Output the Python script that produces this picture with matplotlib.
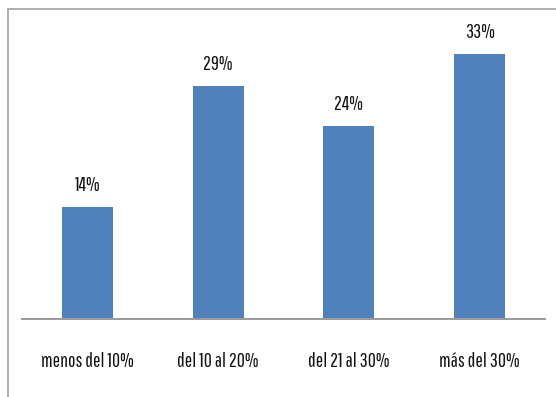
import matplotlib
matplotlib.use("Agg")
import matplotlib.pyplot as plt
from matplotlib.patches import Rectangle
from matplotlib.textpath import TextPath
from matplotlib.font_manager import FontProperties, fontManager

categories = ["menos del 10%", "del 10 al 20%", "del 21 al 30%", "más del 30%"]
values = [14, 29, 24, 33]
labels = ["14%", "29%", "24%", "33%"]

names = {f.name for f in fontManager.ttflist}
fam = "Pathway Gothic One" if "Pathway Gothic One" in names else "DejaVu Sans"
# size so that ascender height ("d") is about 14.5 px
h = TextPath((0, 0), "d", size=100, prop=FontProperties(family=fam)).get_extents().y1
fsize = 14.5 / h * 100 * 0.72

W, H = 556, 397
fig = plt.figure(figsize=(W / 100, H / 100), dpi=100)
fig.patch.set_facecolor("white")

# outer frame (extends past right and bottom edges)
fig.patches.append(Rectangle((8 / W, -0.1), 1.2, (1 - 9 / H) + 0.1,
                             transform=fig.transFigure, fill=False,
                             edgecolor="#a9a9a9", linewidth=1.3))

left, right = 22 / W, 545 / W
bottom, top = 1 - 319 / H, 1 - 38 / H
ax = fig.add_axes([left, bottom, right - left, top - bottom])
x = list(range(len(categories)))
ax.bar(x, values, width=0.39, color="#4f81bd")
ax.set_xlim(-0.5, len(categories) - 0.5)
ax.set_ylim(0, 35)
for s in ["top", "right", "left"]:
    ax.spines[s].set_visible(False)
ax.spines["bottom"].set_color("#9a9a9a")
ax.spines["bottom"].set_linewidth(1.4)
ax.set_yticks([])
ax.set_xticks(x)
ax.set_xticklabels(categories, fontsize=fsize, family=fam, va="baseline",
                   color="#111111")
ax.tick_params(axis="x", length=0, pad=48 * 0.72)
for xi, v, l in zip(x, values, labels):
    ax.annotate(l, (xi, v), xytext=(0, 16 * 0.72), textcoords="offset points",
                ha="center", va="baseline", fontsize=fsize, family=fam,
                color="#111111")

fig.savefig("out.png", dpi=100)
